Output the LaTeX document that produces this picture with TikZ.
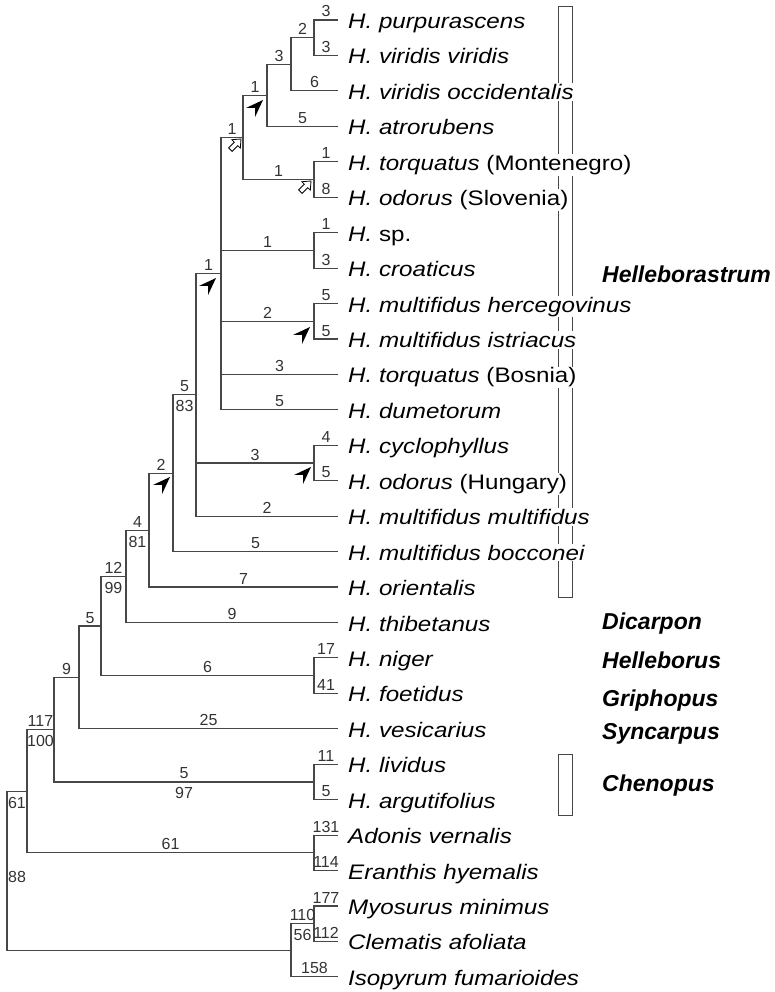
\documentclass[tikz,border=0pt]{standalone}
\usepackage{fontspec}
\setmainfont{Liberation Sans}
\newfontfamily\taxfont[FakeStretch=1.15]{Liberation Sans}
\begin{document}
\begin{tikzpicture}[x=1pt,y=-1pt,
  br/.style={draw=black!72, line width=1.1pt},
  ab/.style={anchor=base, yshift=3pt, inner sep=0pt, font=\fontsize{16}{16}\selectfont, text=black!80},
  bl/.style={anchor=base, yshift=-17pt, inner sep=0pt, font=\fontsize{16}{16}\selectfont, text=black!80},
  tx/.style={anchor=base west, inner sep=1pt, fill=white, xshift=9pt, yshift=-8.5pt, font=\taxfont\fontsize{21}{21}\selectfont},
  grp/.style={anchor=base west, inner sep=0pt, font=\bfseries\itshape\fontsize{23}{23}\selectfont},
  gbox/.style={draw=black!72, line width=1pt},
  blk/.pic={\fill[black] (0,0) -- (-17.7,6.4) -- (-11,0) -- (-17.7,-6.4) -- cycle;},
  opn/.pic={\draw[fill=white, line width=0.8pt] (0,0) -- (-7,-6) -- (-7,-2.5) -- (-15,-2.5) -- (-15,2.5) -- (-7,2.5) -- (-7,6) -- cycle;}
]
\useasboundingbox (0,0) rectangle (774,992);

% leaf tips
\coordinate (L1) at (338,20.0);
\coordinate (L2) at (338,55.4);
\coordinate (L3) at (338,90.9);
\coordinate (L4) at (338,126.3);
\coordinate (L5) at (338,161.8);
\coordinate (L6) at (338,197.2);
\coordinate (L7) at (338,232.6);
\coordinate (L8) at (338,268.1);
\coordinate (L9) at (338,303.5);
\coordinate (L10) at (338,339.0);
\coordinate (L11) at (338,374.4);
\coordinate (L12) at (338,409.8);
\coordinate (L13) at (338,445.3);
\coordinate (L14) at (338,480.7);
\coordinate (L15) at (338,516.2);
\coordinate (L16) at (338,551.6);
\coordinate (L17) at (338,587.0);
\coordinate (L18) at (338,622.5);
\coordinate (L19) at (338,657.9);
\coordinate (L20) at (338,693.4);
\coordinate (L21) at (338,728.8);
\coordinate (L22) at (338,764.2);
\coordinate (L23) at (338,799.7);
\coordinate (L24) at (338,835.1);
\coordinate (L25) at (338,870.6);
\coordinate (L26) at (338,906.0);
\coordinate (L27) at (338,941.4);
\coordinate (L28) at (338,976.9);

% internal nodes
\coordinate (pv) at (314,37.7);
\coordinate (pvo) at (291,64.3);
\coordinate (A) at (267,95.3);
\coordinate (TO) at (314,179.5);
\coordinate (B) at (243,137.4);
\coordinate (SC) at (314,250.35);
\coordinate (HI) at (314,321.25);
\coordinate (P) at (221,273.6);
\coordinate (CH) at (314,463.0);
\coordinate (Q) at (196,394.9);
\coordinate (R) at (173,473.25);
\coordinate (S) at (149,530.1);
\coordinate (T) at (126,576.3);
\coordinate (NF) at (314,675.65);
\coordinate (U) at (101,626.0);
\coordinate (V) at (79,677.4);
\coordinate (LA) at (314,781.95);
\coordinate (W) at (54,729.7);
\coordinate (AE) at (314,852.85);
\coordinate (X) at (27,791.3);
\coordinate (MC) at (314,923.7);
\coordinate (MCI) at (291,950.3);
\coordinate (root) at (7,870.8);

% group boxes
\draw[gbox] (558,7) rectangle (572,597);
\draw[gbox] (558,754) rectangle (572,815);

% branches
\draw[br] (pv) |- node[pos=.75,ab]{3} (L1);
\draw[br] (pv) |- node[pos=.75,ab]{3} (L2);
\draw[br] (pvo) |- node[pos=.75,ab]{2} (pv);
\draw[br] (pvo) |- node[pos=.75,ab]{6} (L3);
\draw[br] (A) |- node[pos=.75,ab]{3} (pvo);
\draw[br] (A) |- node[pos=.75,ab]{5} (L4);
\draw[br] (TO) |- node[pos=.75,ab]{1} (L5);
\draw[br] (TO) |- node[pos=.75,ab]{8} (L6);
\draw[br] (B) |- node[pos=.75,ab]{1} (A);
\draw[br] (B) |- node[pos=.75,ab]{1} (TO);
\draw[br] (SC) |- node[pos=.75,ab]{1} (L7);
\draw[br] (SC) |- node[pos=.75,ab]{3} (L8);
\draw[br] (HI) |- node[pos=.75,ab]{5} (L9);
\draw[br] (HI) |- node[pos=.75,ab]{5} (L10);
\draw[br] (P) |- node[pos=.75,ab]{1} (B);
\draw[br] (P) |- node[pos=.75,ab]{1} (SC);
\draw[br] (P) |- node[pos=.75,ab]{2} (HI);
\draw[br] (P) |- node[pos=.75,ab]{3} (L11);
\draw[br] (P) |- node[pos=.75,ab]{5} (L12);
\draw[br] (CH) |- node[pos=.75,ab]{4} (L13);
\draw[br] (CH) |- node[pos=.75,ab]{5} (L14);
\draw[br] (Q) |- node[pos=.75,ab]{1} (P);
\draw[br] (Q) |- node[pos=.75,ab]{3} (CH);
\draw[br] (Q) |- node[pos=.75,ab]{2} (L15);
\draw[br] (R) |- node[pos=.75,ab]{5} node[pos=.75,bl]{83} (Q);
\draw[br] (R) |- node[pos=.75,ab]{5} (L16);
\draw[br] (S) |- node[pos=.75,ab]{2} (R);
\draw[br] (S) |- node[pos=.75,ab]{7} (L17);
\draw[br] (T) |- node[pos=.75,ab]{4} node[pos=.75,bl]{81} (S);
\draw[br] (T) |- node[pos=.75,ab]{9} (L18);
\draw[br] (NF) |- node[pos=.75,ab]{17} (L19);
\draw[br] (NF) |- node[pos=.75,ab]{41} (L20);
\draw[br] (U) |- node[pos=.75,ab]{12} node[pos=.75,bl]{99} (T);
\draw[br] (U) |- node[pos=.75,ab]{6} (NF);
\draw[br] (V) |- node[pos=.75,ab]{5} (U);
\draw[br] (V) |- node[pos=.75,ab]{25} (L21);
\draw[br] (LA) |- node[pos=.75,ab]{11} (L22);
\draw[br] (LA) |- node[pos=.75,ab]{5} (L23);
\draw[br] (W) |- node[pos=.75,ab]{9} (V);
\draw[br] (W) |- node[pos=.75,ab]{5} node[pos=.75,bl]{97} (LA);
\draw[br] (AE) |- node[pos=.75,ab]{131} (L24);
\draw[br] (AE) |- node[pos=.75,ab]{114} (L25);
\draw[br] (X) |- node[pos=.75,ab]{117} node[pos=.75,bl]{100} (W);
\draw[br] (X) |- node[pos=.75,ab]{61} (AE);
\draw[br] (MC) |- node[pos=.75,ab]{177} (L26);
\draw[br] (MC) |- node[pos=.75,ab]{112} (L27);
\draw[br] (MCI) |- node[pos=.75,ab]{110} node[pos=.75,bl]{56} (MC);
\draw[br] (MCI) |- node[pos=.75,ab]{158} (L28);
\draw[br] (root) |- node[pos=.75,bl]{61} (X);
\draw[br] (root) |- (MCI);
\node[anchor=west, inner sep=1pt, yshift=-6pt, font=\fontsize{16}{16}\selectfont, text=black!80] (rootlab) at (root) {88};

% arrowheads
\pic[rotate=45] at (263,100) {blk};
\pic[rotate=45] at (216,278) {blk};
\pic[rotate=45] at (310,327) {blk};
\pic[rotate=45] at (311,467) {blk};
\pic[rotate=45] at (170,477) {blk};
\pic[rotate=45] at (241,139) {opn};
\pic[rotate=45] at (311,181) {opn};

% taxa
\node[tx] (t1) at (L1) {\textit{H. purpurascens}};
\node[tx] (t2) at (L2) {\textit{H. viridis viridis}};
\node[tx] (t3) at (L3) {\textit{H. viridis occidentalis}};
\node[tx] (t4) at (L4) {\textit{H. atrorubens}};
\node[tx] (t5) at (L5) {\textit{H. torquatus} (Montenegro)};
\node[tx] (t6) at (L6) {\textit{H. odorus} (Slovenia)};
\node[tx] (t7) at (L7) {\textit{H.} sp.};
\node[tx] (t8) at (L8) {\textit{H. croaticus}};
\node[tx] (t9) at (L9) {\textit{H. multifidus hercegovinus}};
\node[tx] (t10) at (L10) {\textit{H. multifidus istriacus}};
\node[tx] (t11) at (L11) {\textit{H. torquatus} (Bosnia)};
\node[tx] (t12) at (L12) {\textit{H. dumetorum}};
\node[tx] (t13) at (L13) {\textit{H. cyclophyllus}};
\node[tx] (t14) at (L14) {\textit{H. odorus} (Hungary)};
\node[tx] (t15) at (L15) {\textit{H. multifidus multifidus}};
\node[tx] (t16) at (L16) {\textit{H. multifidus bocconei}};
\node[tx] (t17) at (L17) {\textit{H. orientalis}};
\node[tx] (t18) at (L18) {\textit{H. thibetanus}};
\node[tx] (t19) at (L19) {\textit{H. niger}};
\node[tx] (t20) at (L20) {\textit{H. foetidus}};
\node[tx] (t21) at (L21) {\textit{H. vesicarius}};
\node[tx] (t22) at (L22) {\textit{H. lividus}};
\node[tx] (t23) at (L23) {\textit{H. argutifolius}};
\node[tx] (t24) at (L24) {\textit{Adonis vernalis}};
\node[tx] (t25) at (L25) {\textit{Eranthis hyemalis}};
\node[tx] (t26) at (L26) {\textit{Myosurus minimus}};
\node[tx] (t27) at (L27) {\textit{Clematis afoliata}};
\node[tx] (t28) at (L28) {\textit{Isopyrum fumarioides}};

% group labels
\node[grp] (g1) at (602,282) {Helleborastrum};
\node[grp] (g2) at (602,629) {Dicarpon};
\node[grp] (g3) at (602,668) {Helleborus};
\node[grp] (g4) at (602,706) {Griphopus};
\node[grp] (g5) at (602,739) {Syncarpus};
\node[grp] (g6) at (602,791) {Chenopus};
\end{tikzpicture}
\end{document}
